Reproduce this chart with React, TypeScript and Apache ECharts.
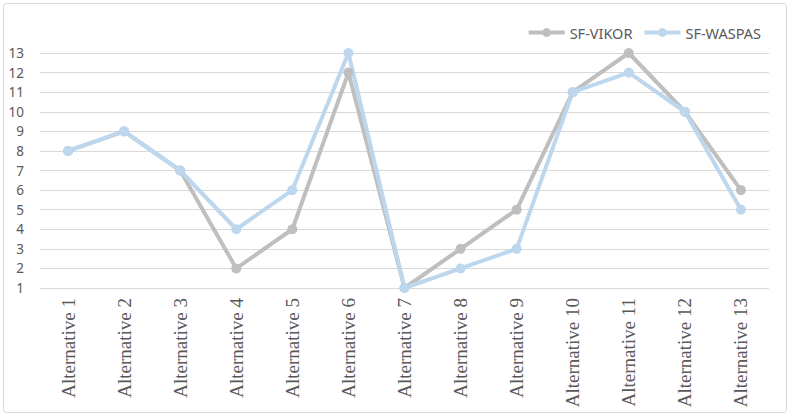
import React, { useEffect, useRef } from "react";
import * as echarts from "echarts";

const categories = [
  "Alternative 1", "Alternative 2", "Alternative 3", "Alternative 4", "Alternative 5",
  "Alternative 6", "Alternative 7", "Alternative 8", "Alternative 9", "Alternative 10",
  "Alternative 11", "Alternative 12", "Alternative 13",
];
const vikor = [8, 9, 7, 2, 4, 12, 1, 3, 5, 11, 13, 10, 6];
const waspas = [8, 9, 7, 4, 6, 13, 1, 2, 3, 11, 12, 10, 5];

export default function App() {
  const ref = useRef<HTMLDivElement>(null);
  useEffect(() => {
    document.body.style.margin = "0";
    const chart = echarts.init(ref.current!, null, { renderer: "svg" });
    chart.setOption({
      animation: false,
      backgroundColor: "#ffffff",
      graphic: [
        {
          type: "rect",
          shape: { x: 3.5, y: 3.5, width: 783, height: 409, r: 3 },
          style: { fill: "none", stroke: "#d9d9d9", lineWidth: 1 },
          silent: true,
        },
      ],
      legend: {
        right: 24,
        top: 20,
        itemWidth: 36,
        itemHeight: 11,
        itemGap: 10,
        lineStyle: { width: 4 },
        textStyle: { fontFamily: "Noto Sans", fontSize: 14.5, color: "#595959" },
        data: ["SF-VIKOR", "SF-WASPAS"],
      },
      grid: { left: 40, right: 21, top: 53, bottom: 129, containLabel: false },
      xAxis: {
        type: "category",
        data: categories,
        boundaryGap: true,
        axisLine: { show: false },
        axisTick: { show: false },
        axisLabel: {
          rotate: 90,
          margin: 10,
          fontFamily: "Liberation Serif",
          fontSize: 19,
          color: "#595959",
          interval: 0,
        },
      },
      yAxis: {
        type: "value",
        min: 1,
        max: 13,
        interval: 1,
        axisLine: { show: false },
        axisTick: { show: false },
        axisLabel: { fontFamily: "Noto Sans", fontSize: 13.5, color: "#595959", margin: 16 },
        splitLine: { lineStyle: { color: "#d9d9d9", width: 1 } },
      },
      series: [
        {
          name: "SF-VIKOR",
          type: "line",
          data: vikor,
          symbol: "circle",
          symbolSize: 10,
          lineStyle: { color: "#bfbfbf", width: 4 },
          itemStyle: { color: "#bfbfbf" },
        },
        {
          name: "SF-WASPAS",
          type: "line",
          data: waspas,
          symbol: "circle",
          symbolSize: 10,
          lineStyle: { color: "#bdd7ee", width: 4 },
          itemStyle: { color: "#bdd7ee" },
        },
      ],
    });
    return () => chart.dispose();
  }, []);
  return <div ref={ref} style={{ width: 790, height: 417 }} />;
}
